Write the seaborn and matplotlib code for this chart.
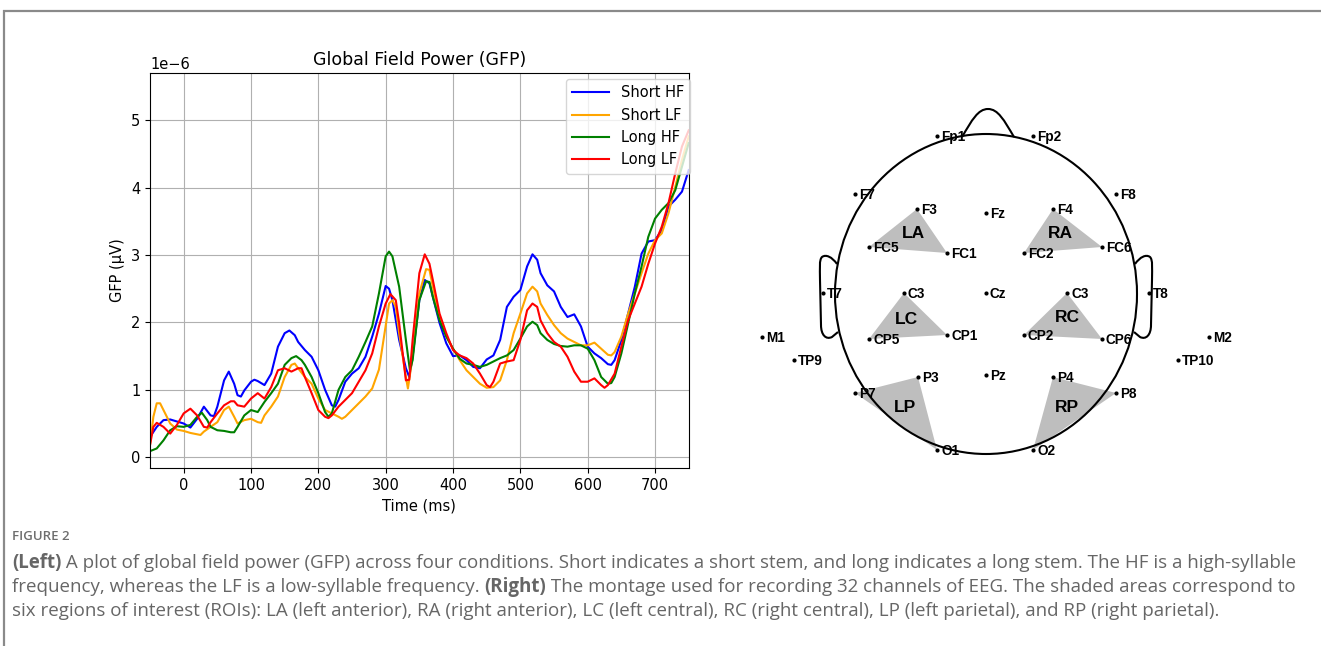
import numpy as np
import pandas as pd
import matplotlib
matplotlib.use("Agg")
import matplotlib.pyplot as plt
import seaborn as sns
from matplotlib.patches import Ellipse, PathPatch, Polygon
from matplotlib.path import Path

# ---------------- data: GFP curves (values in microvolts) ----------------
conditions = ["Short HF", "Short LF", "Long HF", "Long LF"]
colors = ["blue", "orange", "green", "red"]

t_short_hf = [-50,-40,-30,-20,-10,0,10,20,30,40,45,50,60,67,75,80,85,90,100,105,110,120,130,140,150,157,165,170,180,190,
              200,210,220,225,230,240,250,260,270,280,290,300,305,310,320,330,335,340,350,358,365,370,380,390,400,410,420,430,
              440,450,460,470,480,490,500,510,518,525,530,540,550,560,570,580,590,600,610,620,630,635,640,650,660,670,680,690,
              700,710,720,730,740,750]
v_short_hf = [0.30,0.45,0.55,0.56,0.53,0.50,0.44,0.57,0.75,0.62,0.61,0.75,1.14,1.27,1.09,0.92,0.90,0.99,1.12,1.15,1.13,1.07,1.24,1.64,1.84,1.88,1.81,1.71,1.59,1.49,
              1.29,1.00,0.77,0.75,0.85,1.12,1.24,1.32,1.49,1.79,2.13,2.54,2.50,2.33,1.74,1.32,1.19,1.49,2.33,2.63,2.58,2.38,1.99,1.69,1.50,1.51,1.44,1.34,
              1.32,1.45,1.51,1.74,2.23,2.38,2.48,2.83,3.01,2.93,2.73,2.55,2.46,2.23,2.08,2.12,1.94,1.64,1.54,1.47,1.38,1.37,1.44,1.74,2.13,2.53,3.02,3.20,
              3.22,3.37,3.72,3.82,3.94,4.26]

t_short_lf = [-50,-45,-40,-35,-30,-20,-10,0,10,20,25,30,40,50,60,67,75,80,90,100,110,115,120,130,140,150,160,165,170,180,
              190,200,210,220,230,235,240,250,260,270,280,290,300,305,310,315,320,330,333,340,350,360,365,370,380,390,400,410,420,430,
              440,450,460,470,480,490,500,510,518,525,530,540,550,560,570,580,590,600,610,620,630,635,640,650,660,670,680,690,700,710,
              720,730,740,750]
v_short_lf = [0.18,0.60,0.80,0.80,0.70,0.50,0.41,0.39,0.36,0.34,0.33,0.38,0.45,0.52,0.70,0.75,0.60,0.50,0.55,0.57,0.52,0.51,0.62,0.75,0.90,1.19,1.37,1.39,1.32,1.19,
              1.09,0.87,0.70,0.65,0.60,0.57,0.60,0.70,0.80,0.90,1.02,1.30,1.95,2.28,2.33,2.23,1.84,1.19,1.02,1.49,2.43,2.79,2.78,2.53,2.08,1.79,1.61,1.44,1.29,1.19,
              1.09,1.03,1.04,1.14,1.44,1.84,2.13,2.43,2.53,2.46,2.28,2.11,1.96,1.84,1.76,1.71,1.66,1.66,1.70,1.61,1.52,1.51,1.56,1.79,2.13,2.43,2.73,3.02,3.22,3.32,
              3.62,4.01,4.41,4.76]

t_long_hf = [-50,-40,-30,-20,-10,0,10,20,27,35,40,50,60,70,75,80,90,100,110,120,130,140,150,160,167,175,180,190,200,210,
             215,220,230,240,250,260,270,280,290,300,305,310,320,330,336,340,350,360,365,370,380,390,400,410,420,430,440,450,460,470,
             480,490,500,510,518,525,530,540,550,560,570,580,590,600,610,620,630,635,640,650,660,670,680,690,700,710,720,730,740,750]
v_long_hf = [0.09,0.13,0.25,0.40,0.46,0.45,0.48,0.60,0.66,0.55,0.45,0.40,0.39,0.37,0.37,0.45,0.62,0.70,0.67,0.82,0.95,1.09,1.37,1.47,1.50,1.44,1.37,1.19,0.95,0.67,
             0.60,0.65,1.00,1.19,1.29,1.49,1.71,1.94,2.43,2.98,3.05,2.98,2.53,1.74,1.29,1.44,2.33,2.61,2.60,2.38,2.03,1.79,1.61,1.46,1.39,1.37,1.34,1.37,1.42,1.47,
             1.51,1.59,1.76,1.94,2.01,1.96,1.84,1.74,1.68,1.65,1.64,1.66,1.66,1.61,1.44,1.19,1.09,1.10,1.19,1.54,1.98,2.43,2.83,3.27,3.54,3.67,3.77,3.96,4.31,4.66]

t_long_lf = [-50,-45,-40,-30,-20,-10,0,10,20,30,35,40,50,60,70,75,80,90,100,110,120,130,140,150,160,170,175,180,190,200,
             210,215,220,230,240,250,260,270,280,290,300,307,315,320,330,335,340,350,358,365,370,380,390,400,410,420,430,440,450,455,
             460,470,480,490,500,510,518,525,530,540,550,560,570,580,590,600,610,620,625,630,640,650,660,670,680,690,700,710,720,730,
             740,750]
v_long_lf = [0.18,0.45,0.51,0.45,0.35,0.48,0.65,0.72,0.62,0.45,0.44,0.52,0.65,0.77,0.83,0.83,0.77,0.75,0.87,0.95,0.87,1.04,1.29,1.32,1.27,1.32,1.32,1.19,0.95,0.70,
             0.60,0.58,0.62,0.75,0.85,0.95,1.12,1.29,1.54,1.94,2.28,2.42,2.33,1.99,1.14,1.15,1.74,2.73,3.01,2.87,2.63,2.13,1.84,1.59,1.51,1.47,1.39,1.24,1.07,1.04,
             1.12,1.39,1.42,1.44,1.74,2.18,2.28,2.23,2.03,1.84,1.71,1.64,1.49,1.27,1.12,1.12,1.17,1.07,1.03,1.07,1.24,1.64,2.03,2.28,2.53,2.87,3.17,3.42,3.77,4.21,
             4.61,4.85]

x_ticks = [0, 100, 200, 300, 400, 500, 600, 700]

# ---------------- data: EEG montage ----------------
electrodes = ["Fp1", "Fp2", "F7", "F8", "F3", "Fz", "F4", "FC5", "FC1", "FC2", "FC6",
              "T7", "C3", "Cz", "C3", "T8", "M1", "CP5", "CP1", "CP2", "CP6", "M2",
              "TP9", "TP10", "P3", "Pz", "P4", "P7", "P8", "O1", "O2"]
elec_x = [937, 1033, 855, 1116, 917, 986, 1053, 869, 947, 1024, 1102,
          823, 904, 986, 1067, 1149, 762, 869, 947, 1024, 1102, 1209,
          794, 1178, 918, 986, 1053, 855, 1116, 937, 1033]
elec_y = [136, 136, 194, 194, 209, 213, 209, 247, 253, 253, 247,
          293, 293, 293, 293, 293, 337, 339, 335, 335, 339, 337,
          360, 360, 377, 375, 377, 393, 393, 450, 450]
roi_names = ["LA", "RA", "LC", "RC", "LP", "RP"]
roi_members = [[4, 7, 8], [6, 9, 10], [12, 17, 18], [14, 19, 20], [27, 24, 29], [26, 30, 28]]
roi_label_x = [913, 1060, 906, 1067, 905, 1067]
roi_label_y = [234, 234, 320, 318, 408, 408]

# ---------------- figure ----------------
fig = plt.figure(figsize=(13.21, 6.46), dpi=100)

ax = fig.add_axes([150 / 1321, (646 - 468) / 646, 538.7 / 1321, 395 / 646])
frames = []
for name, t, v in [(conditions[0], t_short_hf, v_short_hf), (conditions[1], t_short_lf, v_short_lf),
                   (conditions[2], t_long_hf, v_long_hf), (conditions[3], t_long_lf, v_long_lf)]:
    frames.append(pd.DataFrame({"Time": t, "GFP": np.array(v) * 1e-6, "Condition": name}))
df = pd.concat(frames, ignore_index=True)

sns.lineplot(data=df, x="Time", y="GFP", hue="Condition", hue_order=conditions,
             palette=dict(zip(conditions, colors)), estimator=None, lw=1.5, ax=ax)
ax.set_xlim(-50, 750)
ax.set_ylim(-0.16e-6, 5.70e-6)
ax.set_xticks(x_ticks)
ax.grid(True, color="#b0b0b0", lw=0.8)
ax.tick_params(labelsize=10.5)
ax.yaxis.get_offset_text().set_fontsize(10.5)
ax.set_xlabel("Time (ms)", fontsize=10.5)
ax.set_ylabel("GFP (µV)", fontsize=10.5)
ax.set_title("Global Field Power (GFP)", fontsize=12.5)
ax.legend(loc="upper right", fontsize=10.5, bbox_to_anchor=(1.003, 0.985), borderaxespad=0.0,
          handlelength=2.5, handletextpad=0.8, borderpad=0.45)

# ---------------- overlay in pixel coordinates ----------------
ov = fig.add_axes([0, 0, 1, 1])
ov.set_xlim(0, 1321)
ov.set_ylim(646, 0)
ov.axis("off")
ov.patch.set_visible(False)

# frame lines
ov.plot([3, 1321], [11, 11], color="#8a8a8a", lw=1.6, solid_capstyle="butt")
ov.plot([4, 4], [10, 646], color="#8a8a8a", lw=1.6, solid_capstyle="butt")

# ROI triangles
for idx in roi_members:
    pts = [(elec_x[i], elec_y[i]) for i in idx]
    ov.add_patch(Polygon(pts, closed=True, facecolor="#bebebe", edgecolor="none", zorder=1))

# head outline
ov.add_patch(Ellipse((986, 294), 302, 320, fill=False, edgecolor="black", lw=1.5, zorder=2))
nose = Path([(962, 137), (972, 120), (978, 109), (988, 109), (998, 109), (1004, 120), (1014, 137)],
            [Path.MOVETO, Path.CURVE4, Path.CURVE4, Path.CURVE4, Path.CURVE4, Path.CURVE4, Path.CURVE4])
ov.add_patch(PathPatch(nose, fill=False, edgecolor="black", lw=1.5, zorder=2))
ear_pts = [(837, 264), (832, 257), (826, 254), (822, 257), (819, 260), (820, 268), (820, 280),
           (821, 325), (821, 335), (826, 340), (832, 337), (838, 332)]
ear_codes = [Path.MOVETO, Path.CURVE4, Path.CURVE4, Path.CURVE4, Path.CURVE4, Path.CURVE4, Path.CURVE4,
             Path.LINETO, Path.CURVE4, Path.CURVE4, Path.CURVE4, Path.LINETO]
ov.add_patch(PathPatch(Path(ear_pts, ear_codes), fill=False, edgecolor="black", lw=1.5, zorder=2))
ov.add_patch(PathPatch(Path([(1972 - x, y) for x, y in ear_pts], ear_codes), fill=False,
                       edgecolor="black", lw=1.5, zorder=2))

# electrodes
sns.scatterplot(x=elec_x, y=elec_y, color="black", s=9, linewidth=0, ax=ov, zorder=3, legend=False)
for name, x, y in zip(electrodes, elec_x, elec_y):
    ov.text(x + 4, y + 1, name, ha="left", va="center", fontsize=9.8, fontweight="bold",
            family="Liberation Sans", zorder=4)
for name, x, y in zip(roi_names, roi_label_x, roi_label_y):
    ov.text(x, y, name, ha="center", va="center", fontsize=12.5, fontweight="bold",
            family="Liberation Sans", zorder=4)
ov.set_xlim(0, 1321)
ov.set_ylim(646, 0)
ov.axis("off")

# ---------------- caption ----------------
cap_color = "#666666"
cap_font = "Open Sans"
cap_size = 13.5

ov.text(12, 537, "FIGURE 2", ha="left", va="center", fontsize=9.5, fontweight="semibold",
        color="#6e6e6e", family=cap_font)

def rich_line(x, y, parts):
    first = parts[0]
    t = ov.text(x, y, first[0], ha="left", va="center", fontsize=cap_size,
                fontweight=first[1], color=cap_color, family=cap_font)
    for s, w in parts[1:]:
        t = ov.annotate(s, xy=(1, 0.5), xycoords=t, ha="left", va="center", fontsize=cap_size,
                        fontweight=w, color=cap_color, family=cap_font)

rich_line(12, 563, [("(Left)", "bold"),
                    (" A plot of global field power (GFP) across four conditions. Short indicates a short stem, and long indicates a long stem. The HF is a high-syllable", "normal")])
rich_line(12, 587, [("frequency, whereas the LF is a low-syllable frequency. ", "normal"), ("(Right)", "bold"),
                    (" The montage used for recording 32 channels of EEG. The shaded areas correspond to", "normal")])
rich_line(12, 611, [("six regions of interest (ROIs): LA (left anterior), RA (right anterior), LC (left central), RC (right central), LP (left parietal), and RP (right parietal).", "normal")])

fig.savefig("out.png", dpi=100)
